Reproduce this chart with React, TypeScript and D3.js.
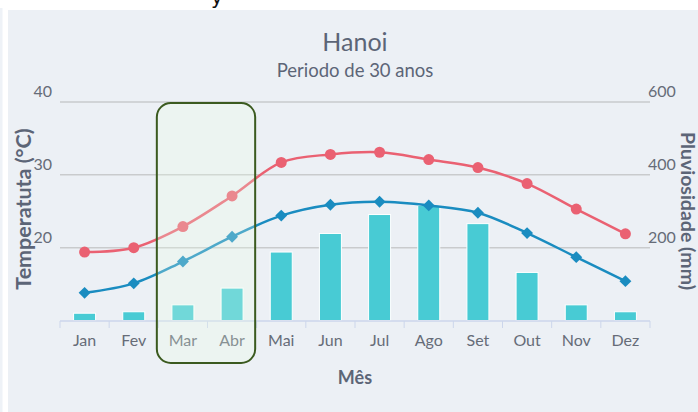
import React from 'react';
import * as d3 from 'd3';

// Hanoi climate normals
const MONTHS = ['Jan', 'Fev', 'Mar', 'Abr', 'Mai', 'Jun', 'Jul', 'Ago', 'Set', 'Out', 'Nov', 'Dez'];
const TEMP_MAX = [19.4, 20.0, 22.9, 27.1, 31.7, 32.8, 33.1, 32.1, 31.0, 28.8, 25.3, 21.9];
const TEMP_MIN = [13.8, 15.1, 18.1, 21.5, 24.4, 25.9, 26.3, 25.8, 24.8, 22.0, 18.7, 15.4];
const RAIN = [20, 24, 43, 89, 188, 239, 291, 316, 266, 132, 43, 24];
const TEMP_TICKS = [20, 30, 40];
const RAIN_TICKS = [200, 400, 600];
const HIGHLIGHT = ['Mar', 'Abr'];

const W = 698, H = 412;
const FONT = 'Lato, "Open Sans", sans-serif';
const TXT = '#5c6577';

export default function App() {
  const x = d3.scaleBand<string>().domain(MONTHS).range([60, 650]);
  const yT = d3.scaleLinear().domain([10, 40]).range([320.5, 102]);
  const yR = d3.scaleLinear().domain([0, 600]).range([320.5, 102]);
  const bw = x.bandwidth();
  const cx = (m: string) => (x(m) as number) + bw / 2;

  const line = (vals: number[]) =>
    d3.line<number>()
      .x((_, i) => cx(MONTHS[i]))
      .y((d) => yT(d))
      .curve(d3.curveCatmullRom.alpha(0.5))(vals) as string;

  const diamond = d3.symbol().type(d3.symbolDiamond2).size(90)() as string;

  const hx0 = (x(HIGHLIGHT[0]) as number) - 1.5;
  const hx1 = (x(HIGHLIGHT[HIGHLIGHT.length - 1]) as number) + bw - 1.5;

  return (
    <svg width={W} height={H} style={{ position: 'absolute', left: 0, top: 0 }} fontFamily={FONT}>
      <rect x={0} y={0} width={W} height={H} fill="#ffffff" />
      <rect x={0} y={8} width={2.5} height={H - 8} fill="#eef2f7" />
      <rect x={8} y={10} width={W - 8} height={H - 10} fill="#ecf0f5" />
      <text x={211} y={4} fontSize={20} fill="#111" fontFamily="DejaVu Sans">y</text>

      {/* titles */}
      <text x={355} y={51} textAnchor="middle" fontSize={25} fill={TXT}>Hanoi</text>
      <text x={355} y={77} textAnchor="middle" fontSize={18.5} fill={TXT}>Periodo de 30 anos</text>

      {/* grid */}
      {TEMP_TICKS.map((t) => (
        <line key={t} x1={60} x2={650} y1={yT(t)} y2={yT(t)} stroke="#c9cbcd" strokeWidth={1.5} />
      ))}
      {TEMP_TICKS.map((t) => (
        <text key={t} x={52} y={yT(t) - 5} textAnchor="end" fontSize={16} fill="#666c78">{t}</text>
      ))}
      {RAIN_TICKS.map((t) => (
        <text key={t} x={648} y={yR(t) - 5} fontSize={16} fill="#666c78">{t}</text>
      ))}

      {/* bars */}
      {RAIN.map((r, i) => (
        <rect key={MONTHS[i]} x={cx(MONTHS[i]) - 11} width={22} y={yR(r)} height={yR(0) - yR(r)}
          fill="#48cbd4" stroke="#ffffff" strokeWidth={1} />
      ))}

      {/* x axis */}
      <line x1={60} x2={650} y1={321} y2={321} stroke="#ccd6eb" strokeWidth={1.5} />
      {[...MONTHS.map((m) => x(m) as number), 650].map((v, i) => (
        <line key={i} x1={v} x2={v} y1={321} y2={328} stroke="#ccd6eb" strokeWidth={1} />
      ))}
      {MONTHS.map((m) => (
        <text key={m} x={cx(m)} y={346} textAnchor="middle" fontSize={16} fill="#666c78">{m}</text>
      ))}

      {/* lines */}
      <path d={line(TEMP_MAX)} fill="none" stroke="#ea6172" strokeWidth={2.5} />
      {TEMP_MAX.map((t, i) => (
        <circle key={i} cx={cx(MONTHS[i])} cy={yT(t)} r={5.5} fill="#ea6172" />
      ))}
      <path d={line(TEMP_MIN)} fill="none" stroke="#1a8cc0" strokeWidth={2.5} />
      {TEMP_MIN.map((t, i) => (
        <path key={i} d={diamond} transform={`translate(${cx(MONTHS[i])},${yT(t)})`} fill="#1a8cc0" />
      ))}

      {/* highlight box */}
      <rect x={hx0} y={103} width={hx1 - hx0} height={260} rx={14} ry={14}
        fill="rgba(235,255,230,0.25)" stroke="#3b5a1f" strokeWidth={2} />

      {/* axis titles */}
      <text transform="translate(31,209) rotate(-90)" textAnchor="middle" fontSize={21.5}
        fontWeight="bold" fill={TXT}>Temperatuta (°C)</text>
      <text transform="translate(681,211) rotate(90)" textAnchor="middle" fontSize={19.5}
        fontWeight="bold" fill={TXT}>Pluviosidade (mm)</text>
      <text x={355} y={384} textAnchor="middle" fontSize={18} fontWeight="bold" fill={TXT}>Mês</text>
    </svg>
  );
}
